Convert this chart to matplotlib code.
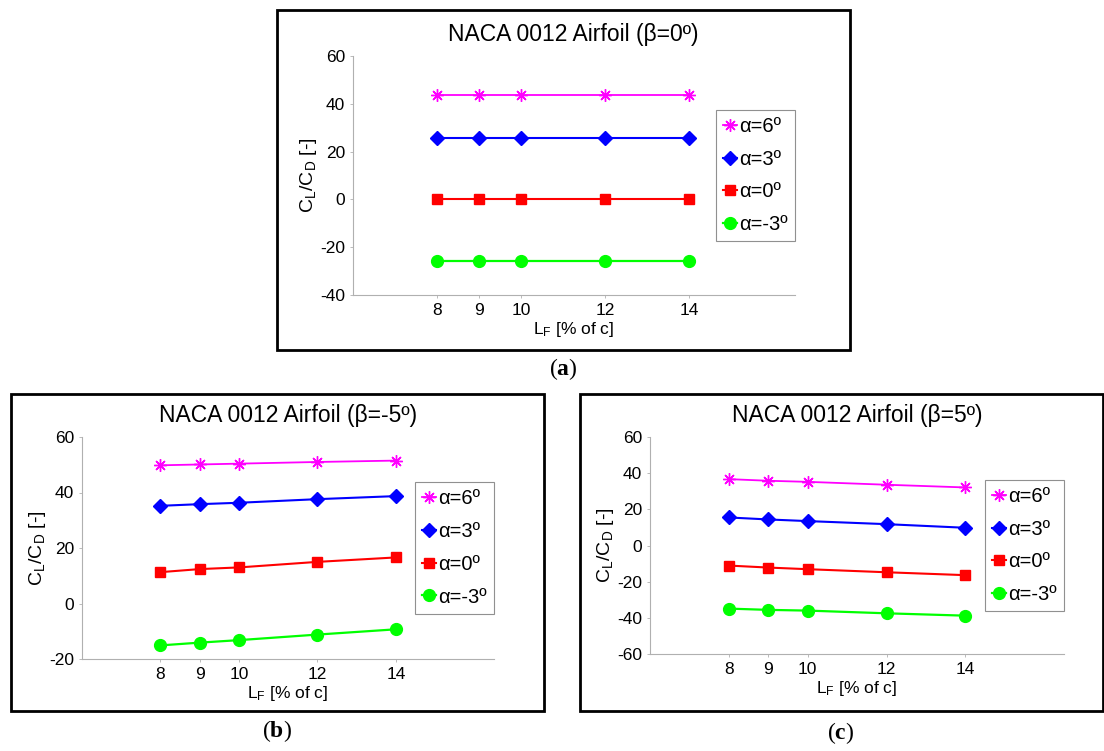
import matplotlib
matplotlib.use("Agg")
import matplotlib.pyplot as plt
from matplotlib.patches import Rectangle

plt.rcParams['font.family'] = ['Liberation Sans', 'DejaVu Sans']
plt.rcParams['mathtext.fontset'] = 'custom'
plt.rcParams['mathtext.rm'] = 'Liberation Sans'
plt.rcParams['mathtext.it'] = 'Liberation Sans:italic'
plt.rcParams['mathtext.bf'] = 'Liberation Serif:bold'
plt.rcParams['axes.unicode_minus'] = False

# data
lf = [8, 9, 10, 12, 14]
alpha_labels = ['α=6º', 'α=3º', 'α=0º', 'α=-3º']

beta0_a6 = [43.7, 43.7, 43.7, 43.7, 43.7]
beta0_a3 = [25.8, 25.8, 25.8, 25.8, 25.8]
beta0_a0 = [0.0, 0.0, 0.0, 0.0, 0.0]
beta0_am3 = [-25.8, -25.8, -25.8, -25.8, -25.8]

betam5_a6 = [49.8, 50.1, 50.4, 51.0, 51.5]
betam5_a3 = [35.2, 35.8, 36.3, 37.6, 38.7]
betam5_a0 = [11.3, 12.4, 13.0, 15.0, 16.6]
betam5_am3 = [-15.1, -14.1, -13.2, -11.2, -9.3]

beta5_a6 = [36.7, 35.8, 35.2, 33.6, 32.1]
beta5_a3 = [15.5, 14.4, 13.5, 11.8, 9.8]
beta5_a0 = [-11.1, -12.2, -13.1, -14.8, -16.4]
beta5_am3 = [-34.9, -35.6, -36.0, -37.5, -38.8]

styles = [
    dict(color='#ff00ff', marker=(8, 2, 0), markersize=9, markeredgewidth=1.0, lw=1.3),
    dict(color='#0000ff', marker='D', markersize=7.5, lw=1.5),
    dict(color='#ff0000', marker='s', markersize=7.5, lw=1.5),
    dict(color='#00ff00', marker='o', markersize=8.5, lw=1.6),
]

W, H = 1104, 751
fig = plt.figure(figsize=(W / 100, H / 100), dpi=100)


def px_axes(left, right, top, bottom):
    return [left / W, 1 - bottom / H, (right - left) / W, (bottom - top) / H]


def frame(left, right, top, bottom):
    fig.add_artist(Rectangle((left / W, 1 - bottom / H), (right - left) / W, (bottom - top) / H,
                             transform=fig.transFigure, fill=False, lw=2, ec='black'))


def panel(rect, title, series, ylim, yticks):
    ax = fig.add_axes(rect)
    for ys, lab, st in zip(series, alpha_labels, styles):
        ax.plot(lf, ys, label=lab, **st)
    ax.set_xlim(6, 16.5)
    ax.set_ylim(*ylim)
    ax.set_xticks(lf)
    ax.set_yticks(yticks)
    for s in ['top', 'right']:
        ax.spines[s].set_visible(False)
    for s in ['left', 'bottom']:
        ax.spines[s].set_color('#b0b0b0')
        ax.spines[s].set_linewidth(0.8)
    ax.tick_params(direction='out', length=2.5, width=0.6, color='#b0b0b0',
                   labelsize=12.5, pad=3)
    ax.set_title(title, fontsize=16.5, pad=11)
    ax.set_xlabel(r'L$_\mathrm{F}$ [% of c]', fontsize=12.5, labelpad=2)
    ax.set_ylabel(r'C$_\mathrm{L}$/C$_\mathrm{D}$ [-]', fontsize=14, labelpad=1)
    leg = ax.legend(loc='center right', bbox_to_anchor=(1.0, 0.5), borderaxespad=0,
                    fontsize=14.5, handlelength=0.7, handletextpad=0.1, labelspacing=0.68,
                    borderpad=0.35, fancybox=False, framealpha=1)
    leg.get_frame().set_edgecolor('#909090')
    leg.get_frame().set_linewidth(0.8)
    return ax


panel(px_axes(353, 794.5, 56, 295), 'NACA 0012 Airfoil (β=0º)',
      [beta0_a6, beta0_a3, beta0_a0, beta0_am3], (-40, 60), [-40, -20, 0, 20, 40, 60])
panel(px_axes(82, 494, 437, 659), 'NACA 0012 Airfoil (β=-5º)',
      [betam5_a6, betam5_a3, betam5_a0, betam5_am3], (-20, 60), [-20, 0, 20, 40, 60])
panel(px_axes(650, 1064, 437, 654), 'NACA 0012 Airfoil (β=5º)',
      [beta5_a6, beta5_a3, beta5_a0, beta5_am3], (-60, 60), [-60, -40, -20, 0, 20, 40, 60])

frame(277, 850, 10, 350)
frame(11, 544, 394, 711)
frame(580, 1103, 394, 711)

for x, y, s in [(563, 369, 'a'), (277, 731, 'b'), (841, 733, 'c')]:
    fig.text(x / W, 1 - y / H, '($\\mathbf{' + s + '}$)', ha='center', va='center',
             fontsize=17, family='Liberation Serif')

fig.savefig('out.png', dpi=100)
